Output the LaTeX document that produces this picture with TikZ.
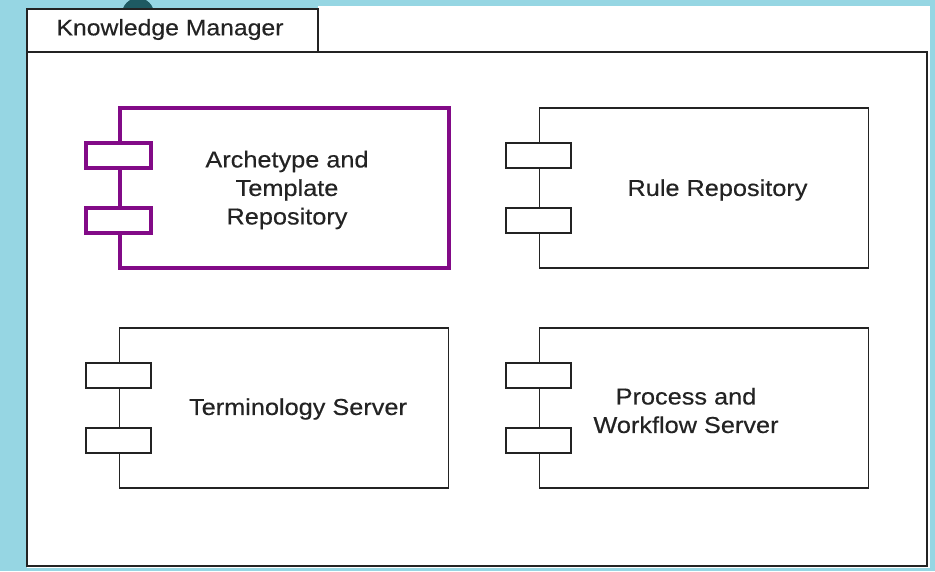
\documentclass[tikz,border=0pt]{standalone}
\usepackage{fontspec}
\newfontfamily\diagfont[FakeStretch=1.1,FakeBold=0.4]{Liberation Sans}
\usetikzlibrary{positioning}

\definecolor{slideblue}{RGB}{150,214,227}
\definecolor{slidedark}{RGB}{30,90,98}
\definecolor{umlpurple}{RGB}{130,10,135}
\definecolor{umlgray}{RGB}{35,35,35}

\tikzset{
  comp/.style={draw=umlgray, line width=1.8pt, fill=white,
    minimum width=329pt, minimum height=160pt, inner sep=0pt},
  port/.style={draw=umlgray, line width=1.8pt, fill=white,
    minimum width=65pt, minimum height=25pt, inner sep=0pt},
  lbl/.style={font=\diagfont\fontsize{23}{28.5}\selectfont, text=umlgray,
    align=center, inner sep=0pt},
  hot/.style={draw=umlpurple, line width=3.5pt}
}

\begin{document}
\begin{tikzpicture}[x=1pt,y=-1pt]
  \useasboundingbox (0,0) rectangle (935,571);
  % slide background
  \fill[slideblue] (0,0) rectangle (935,571);
  \fill[slidedark] (138,14) circle (16);
  \fill[white] (318,6) rectangle (930,568);
  \fill[white] (27,52) rectangle (318,568);

  % package frame
  \draw[umlgray, line width=2.5pt, fill=white] (27,9) rectangle (318,52);
  \draw[umlgray, line width=2.5pt, fill=white] (27,52) rectangle (927,566);
  \node[lbl, font=\diagfont\fontsize{22.5}{27}\selectfont] (pkg) at (170,29.5) {Knowledge Manager};

  % components
  \node[comp, hot] (arch) at (284.5,188) {};
  \node[port, hot] (arch p1) at ([yshift=32.5pt]arch.west) {};
  \node[port, hot] (arch p2) at ([yshift=-32.5pt]arch.west) {};
  \node[lbl] (arch txt) at (287,190) {Archetype and\\Template\\Repository};

  \node[comp] (rule) at (704,188) {};
  \node[port] (rule p1) at ([yshift=32.5pt]rule.west) {};
  \node[port] (rule p2) at ([yshift=-32.5pt]rule.west) {};
  \node[lbl] (rule txt) at (717.5,190) {Rule Repository};

  \node[comp] (term) at (284,408) {};
  \node[port] (term p1) at ([yshift=32.5pt]term.west) {};
  \node[port] (term p2) at ([yshift=-32.5pt]term.west) {};
  \node[lbl] (term txt) at (298,409) {Terminology Server};

  \node[comp] (proc) at (704,408) {};
  \node[port] (proc p1) at ([yshift=32.5pt]proc.west) {};
  \node[port] (proc p2) at ([yshift=-32.5pt]proc.west) {};
  \node[lbl] (proc txt) at (686,410.5) {Process and\\Workflow Server};
\end{tikzpicture}
\end{document}
